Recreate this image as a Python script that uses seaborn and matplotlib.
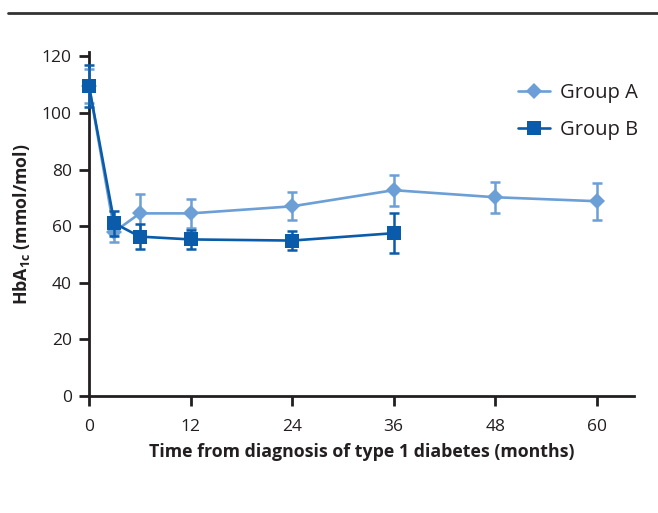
import matplotlib
matplotlib.use("Agg")
import matplotlib.pyplot as plt
import seaborn as sns
import pandas as pd
from matplotlib.lines import Line2D

# ---- data ----
months_a = [0, 3, 6, 12, 24, 36, 48, 60]
hba1c_a = [109.5, 58.0, 64.5, 64.5, 67.0, 72.7, 70.2, 68.8]
err_a = [6.0, 3.5, 7.0, 5.0, 5.0, 5.5, 5.5, 6.5]

months_b = [0, 3, 6, 12, 24, 36]
hba1c_b = [109.5, 61.0, 56.3, 55.3, 54.9, 57.5]
err_b = [7.5, 4.5, 4.5, 3.5, 3.5, 7.0]

groups = ["Group A", "Group B"]
x_ticks = [0, 12, 24, 36, 48, 60]
y_ticks = [0, 20, 40, 60, 80, 100, 120]

colors = {"Group A": "#6B9FD6", "Group B": "#0A5BAA"}
markers = {"Group A": "D", "Group B": "s"}
msizes = {"Group A": 8.0, "Group B": 9.5}

df = pd.concat([
    pd.DataFrame({"month": months_a, "hba1c": hba1c_a, "err": err_a, "group": groups[0]}),
    pd.DataFrame({"month": months_b, "hba1c": hba1c_b, "err": err_b, "group": groups[1]}),
], ignore_index=True)

sns.set_theme(style="white")
plt.rcParams["font.family"] = ["Open Sans", "DejaVu Sans"]
plt.rcParams["mathtext.fontset"] = "custom"
plt.rcParams["mathtext.rm"] = "Open Sans:bold"
plt.rcParams["mathtext.bf"] = "Open Sans:bold"

ink = "#231F20"
fig = plt.figure(figsize=(6.58, 5.13), dpi=100)
ax = fig.add_axes([0.1353, 0.2281, 0.9635 - 0.1353, 0.8986 - 0.2281])

for i, g in enumerate(groups):
    sub = df[df["group"] == g]
    ax.errorbar(sub["month"], sub["hba1c"], yerr=sub["err"], fmt="none",
                ecolor=colors[g], elinewidth=1.8, capsize=3.3, capthick=1.8,
                zorder=3 + 2 * i, clip_on=False)
    sns.lineplot(data=sub, x="month", y="hba1c", ax=ax, color=colors[g],
                 marker=markers[g], markersize=msizes[g], markeredgewidth=0,
                 linewidth=1.9, errorbar=None, label=g, zorder=4 + 2 * i,
                 clip_on=False)

ax.set_xlim(0, 64.4)
ax.set_ylim(0, 121.5)
ax.set_xticks(x_ticks)
ax.set_yticks(y_ticks)
ax.set_xticklabels([str(t) for t in x_ticks])
ax.set_yticklabels([str(t) for t in y_ticks])

for s in ["top", "right"]:
    ax.spines[s].set_visible(False)
for s in ["left", "bottom"]:
    ax.spines[s].set_color(ink)
    ax.spines[s].set_linewidth(2.0)
ax.tick_params(axis="both", which="major", direction="out", length=7.5,
               width=2.0, color=ink, labelcolor=ink, labelsize=12.5, pad=5,
               left=True, bottom=True)
ax.tick_params(axis="x", pad=9)

ax.set_xlabel("Time from diagnosis of type 1 diabetes (months)", fontsize=12.75,
              fontweight="bold", color=ink, labelpad=6)
ax.set_ylabel(r"HbA$_{\mathbf{1c}}$ (mmol/mol)", fontsize=12.75,
              fontweight="bold", color=ink, labelpad=7)

leg = ax.legend(loc="upper right", bbox_to_anchor=(1.04, 0.962), frameon=False,
                fontsize=14.5, handlelength=1.6, handletextpad=0.45,
                labelspacing=0.85)
for t in leg.get_texts():
    t.set_color(ink)

fig.add_artist(Line2D([8 / 658, 1.0], [1 - 13 / 513, 1 - 13 / 513],
                      transform=fig.transFigure, color="#333333", linewidth=2.0))

fig.savefig("out.png", dpi=100)
